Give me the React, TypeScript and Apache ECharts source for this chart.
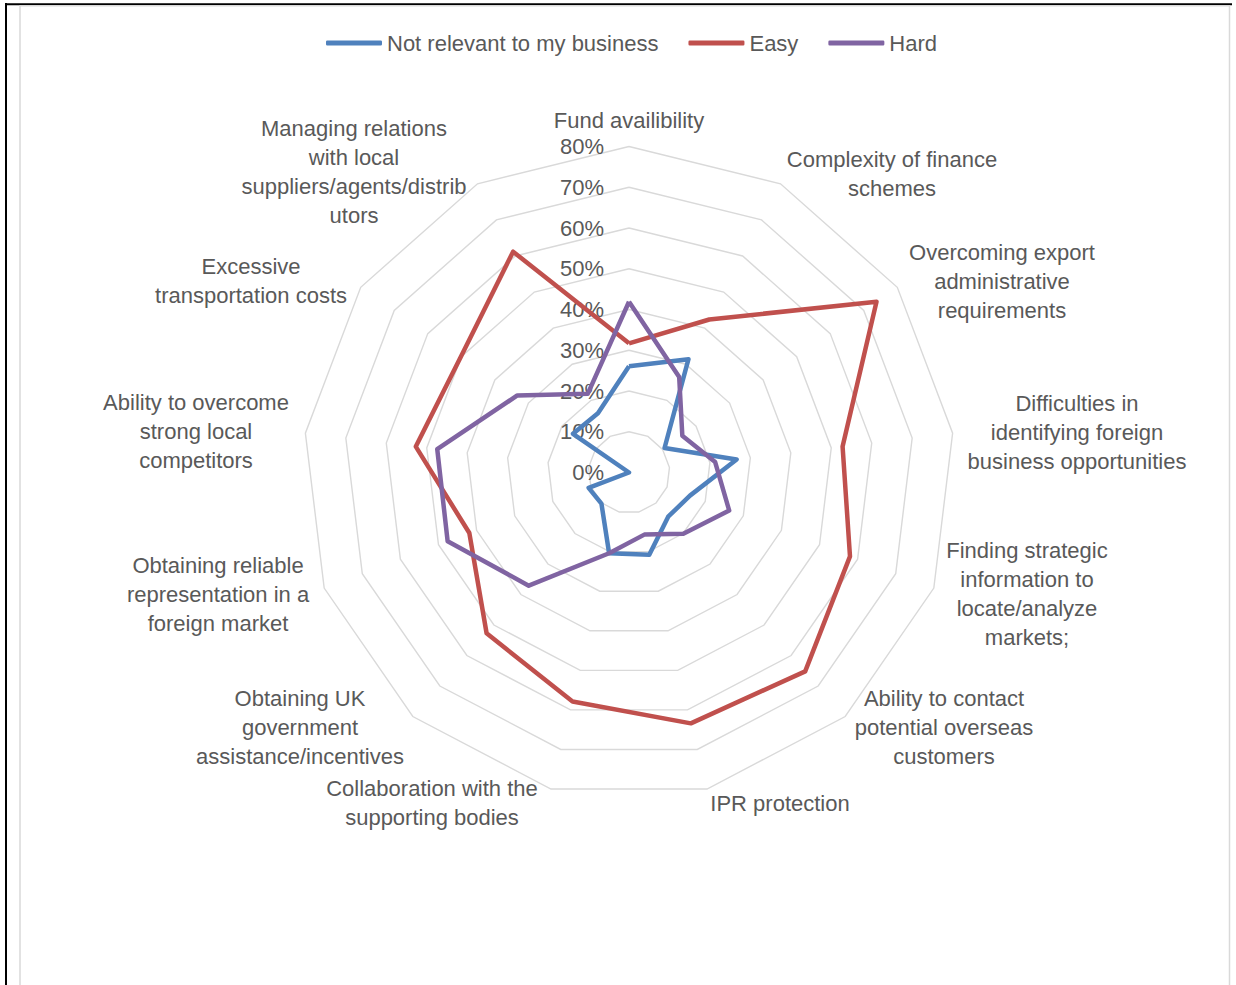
import React, { useEffect, useRef } from 'react';
import * as echarts from 'echarts';

const categories = [
  'Fund availibility',
  'Complexity of finance\nschemes',
  'Overcoming export\nadministrative\nrequirements',
  'Difficulties in\nidentifying foreign\nbusiness opportunities',
  'Finding strategic\ninformation to\nlocate/analyze\nmarkets;',
  'Ability to contact\npotential overseas\ncustomers',
  'IPR protection',
  'Collaboration with the\nsupporting bodies',
  'Obtaining UK\ngovernment\nassistance/incentives',
  'Obtaining reliable\nrepresentation in a\nforeign market',
  'Ability to overcome\nstrong local\ncompetitors',
  'Excessive\ntransportation costs',
  'Managing relations\nwith local\nsuppliers/agents/distrib\nutors',
];

const seriesNames = ['Not relevant to my business', 'Easy', 'Hard'];

const notRelevant = [26.1, 31.4, 10.6, 26.6, 16.0, 14.5, 20.8, 20.4, 10.2, 10.6, 0, 16.7, 16.4];
const easy = [31.7, 42.4, 73.8, 52.8, 58.0, 65.2, 63.4, 57.9, 52.7, 41.9, 52.7, 50.1, 61.2];
const hard = [41.9, 26.5, 15.9, 21.3, 26.3, 20.1, 15.7, 20.4, 37.1, 47.6, 47.4, 33.3, 21.8];

const tickLabels = ['0%', '10%', '20%', '30%', '40%', '50%', '60%', '70%', '80%'];
const axisMax = 80;

// layout only (label anchor centres)
const labelPos: [number, number][] = [
  [629, 120], [892, 174], [1002, 281], [1077, 432], [1027, 594], [944, 727], [780, 803],
  [432, 803], [300, 727], [218, 594], [196, 431], [251, 281], [354, 172],
];

const colors = ['#4f81bd', '#c0504d', '#8064a2'];
const FONT = '"Liberation Sans", Arial, sans-serif';
const TEXT = '#595959';

export default function App() {
  const ref = useRef<HTMLDivElement>(null);
  useEffect(() => {
    if (!ref.current) return;
    const chart = echarts.init(ref.current, undefined, { renderer: 'svg' });
    const n = categories.length;
    // ECharts lays indicators counter-clockwise; reorder so they run clockwise
    const order = [0];
    for (let i = n - 1; i >= 1; i--) order.push(i);
    const indicator: any[] = order.map((i) => ({ name: categories[i], min: 0, max: axisMax }));
    indicator[0].axisLabel = { show: true };
    const seriesData = [notRelevant, easy, hard];

    chart.setOption({
      animation: false,
      backgroundColor: '#ffffff',
      textStyle: { fontFamily: FONT },
      legend: {
        data: seriesNames,
        top: 32,
        left: 326,
        padding: 0,
        itemWidth: 56,
        itemHeight: 5,
        itemGap: 30,
        icon: 'roundRect',
        textStyle: { fontSize: 22, color: TEXT, fontFamily: FONT },
      },
      radar: {
        center: [629, 472.5],
        radius: 326,
        startAngle: 90,
        shape: 'polygon',
        splitNumber: 8,
        indicator,
        axisName: { show: false },
        axisLine: { show: false },
        axisTick: { show: false },
        axisLabel: {
          show: false,
          color: TEXT,
          fontSize: 22,
          fontFamily: FONT,
          margin: 25,
          formatter: (v: number) => tickLabels[Math.round(v / 10)],
        },
        splitLine: { lineStyle: { color: '#d9d9d9', width: 1.4 } },
        splitArea: { show: false },
      },
      series: [
        {
          type: 'radar',
          symbol: 'none',
          data: seriesNames.map((name, k) => ({
            name,
            value: order.map((i) => seriesData[k][i]),
            lineStyle: { color: colors[k], width: 4.5 },
            itemStyle: { color: colors[k] },
          })),
        },
      ],
      graphic: [
        { type: 'line', shape: { x1: 6, y1: 3, x2: 6, y2: 985 }, style: { stroke: '#000', lineWidth: 2 } },
        { type: 'line', shape: { x1: 5, y1: 4.3, x2: 1232, y2: 4.3 }, style: { stroke: '#000', lineWidth: 2 } },
        { type: 'rect', shape: { x: 20, y: 5.8, width: 1209.5, height: 1000 }, style: { fill: 'none', stroke: '#d9d9d9', lineWidth: 1.5 } },
        ...categories.map((c, i) => ({
          type: 'text',
          x: labelPos[i][0],
          y: labelPos[i][1],
          style: {
            text: c,
            fill: TEXT,
            font: `22px ${FONT}`,
            align: 'center',
            verticalAlign: 'middle',
            lineHeight: 29,
          },
        })),
      ],
    });
    return () => chart.dispose();
  }, []);
  return (
    <div
      ref={ref}
      style={{ position: 'fixed', left: 0, top: 0, width: 1236, height: 985 }}
    />
  );
}
